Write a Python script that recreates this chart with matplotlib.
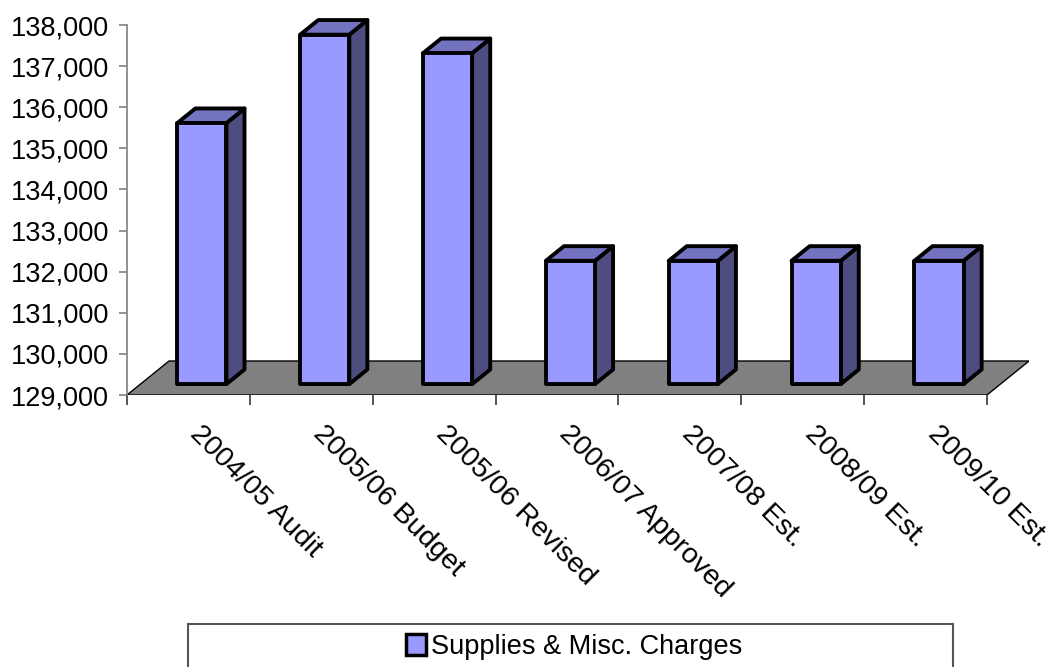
import matplotlib
matplotlib.use("Agg")
import matplotlib.pyplot as plt
import matplotlib.transforms as mtransforms
from matplotlib.patches import Polygon, Patch, Rectangle
from matplotlib.ticker import FuncFormatter

# budget figures for supplies & misc. charges
categories = ["2004/05 Audit", "2005/06 Budget", "2005/06 Revised",
              "2006/07 Approved", "2007/08 Est.", "2008/09 Est.", "2009/10 Est."]
values = [135350, 137500, 137050, 132000, 132000, 132000, 132000]
series_name = "Supplies & Misc. Charges"

y_min, y_max, y_step = 129000, 138000, 1000

plt.rcParams["font.family"] = ["Liberation Sans", "DejaVu Sans"]
plt.rcParams["font.size"] = 19

front_col = "#9999FF"
top_col = "#7373C0"
side_col = "#4D4D80"
floor_col = "#808080"
axis_col = "#808080"

# fake 3d: depth shift of the floor, in category units / value units
DX = 0.342
DY = 827
bar_w = 0.40
d_front, d_back = 0.32, 0.75

fig = plt.figure(figsize=(10.6, 6.67), dpi=100)
ax = fig.add_axes([127 / 1060, 272 / 667, 902 / 1060, 370 / 667])
ax.set_xlim(0, len(categories) + DX)
ax.set_ylim(y_min, y_max)

# floor
n = len(categories)
floor = Polygon([(0, y_min), (n, y_min), (n + DX, y_min + DY), (DX, y_min + DY)],
                closed=True, facecolor=floor_col, edgecolor="black", lw=1.0, zorder=1)
ax.add_patch(floor)

# bars, drawn as front / top / side faces
for i, v in enumerate(values):
    x0 = i + (1 - bar_w) / 2
    x1 = x0 + bar_w
    fx, fy = d_front * DX, d_front * DY
    bx, by = d_back * DX, d_back * DY
    front = [(x0 + fx, y_min + fy), (x1 + fx, y_min + fy), (x1 + fx, v + fy), (x0 + fx, v + fy)]
    top = [(x0 + fx, v + fy), (x1 + fx, v + fy), (x1 + bx, v + by), (x0 + bx, v + by)]
    side = [(x1 + fx, y_min + fy), (x1 + bx, y_min + by), (x1 + bx, v + by), (x1 + fx, v + fy)]
    for pts, col in [(side, side_col), (top, top_col), (front, front_col)]:
        ax.add_patch(Polygon(pts, closed=True, facecolor=col, edgecolor="black",
                             lw=2.8, joinstyle="round", zorder=3, clip_on=False))

# axes styling
for s in ["top", "right", "bottom"]:
    ax.spines[s].set_visible(False)
ax.spines["left"].set_color(axis_col)
ax.spines["left"].set_linewidth(1.2)
ax.set_yticks(range(y_min, y_max + 1, y_step))
ax.yaxis.set_major_formatter(FuncFormatter(lambda v, p: f"{int(v):,}"))
ax.tick_params(axis="y", direction="out", length=6, width=1.2, color=axis_col, pad=7,
               labelsize=19.5)
ax.set_xticks(range(n + 1))
ax.set_xticklabels([])
ax.tick_params(axis="x", direction="out", length=7, width=1.4, color="#555555")

# rotated category labels
label_tf = mtransforms.offset_copy(ax.get_xaxis_transform(), fig=fig, x=6, y=-35, units="dots")
for i, lab in enumerate(categories):
    ax.text(i + 0.5, 0, lab, transform=label_tf, rotation=-45, rotation_mode="anchor",
            ha="left", va="center", fontsize=20.5)

# legend box
fig.patches.append(Rectangle((188 / 1060, -0.05), (953 - 188) / 1060, (667 - 624) / 667 + 0.05,
                             transform=fig.transFigure, facecolor="white",
                             edgecolor="#555555", lw=1.5))
handle = Patch(facecolor=front_col, edgecolor="black", lw=2.5)
fig.legend(handles=[handle], labels=[series_name], frameon=False, loc="center",
           bbox_to_anchor=(574 / 1060, 1 - 647 / 667), handlelength=0.75, handleheight=0.8,
           handletextpad=0.2, borderpad=0, fontsize=19.5)

fig.savefig("out.png", dpi=100)
